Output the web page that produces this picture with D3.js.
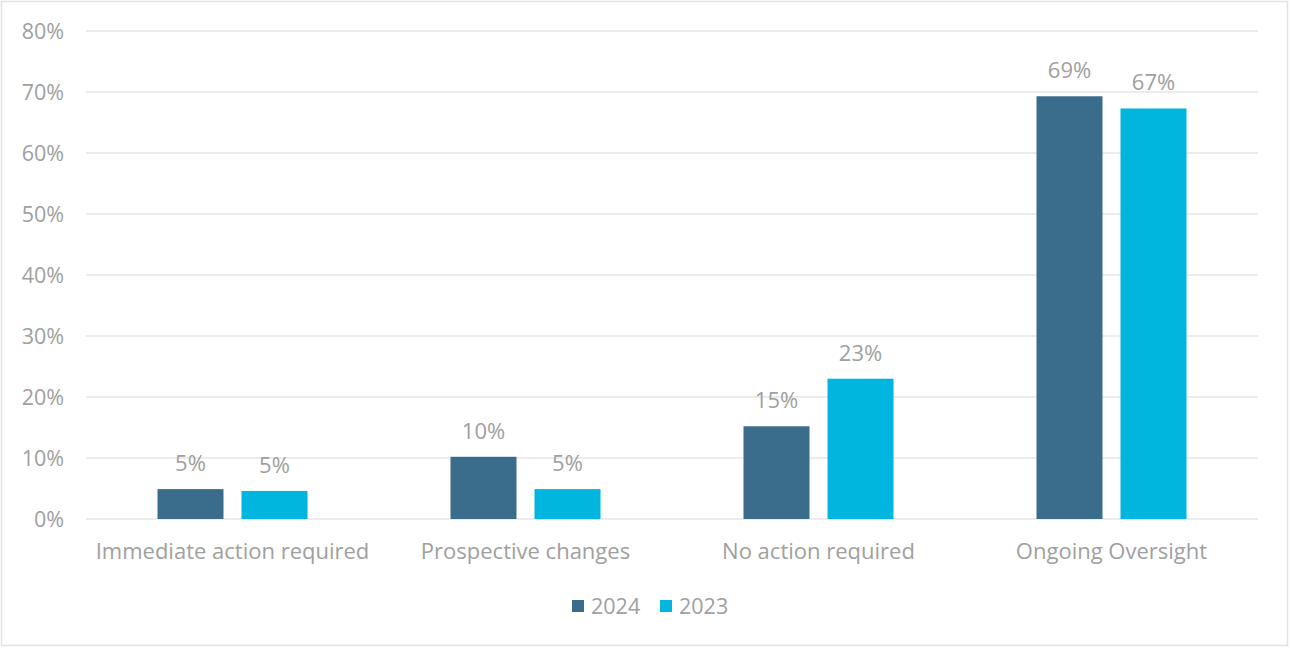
<!DOCTYPE html>
<html lang="en">
<head>
  <meta charset="UTF-8">
  <title>Review outcomes 2024 vs 2023</title>
  <script src="https://d3js.org/d3.v7.min.js"></script>
  <style>
    body { margin: 0; background: #fff; font-family: "Open Sans", "Noto Sans", sans-serif; }
    svg text { fill: #a0a0a0; }
    .grid line { stroke: #e6e6e6; stroke-width: 1.5px; }
  </style>
</head>
<body>
  <svg width="1291" height="649"></svg>
  <script>
    // chart data
    const categories = ["Immediate action required", "Prospective changes", "No action required", "Ongoing Oversight"];
    const seriesNames = ["2024", "2023"];
    const values2024 = [0.049, 0.102, 0.152, 0.693];
    const values2023 = [0.046, 0.049, 0.230, 0.673];
    const yTicks = [0, 0.1, 0.2, 0.3, 0.4, 0.5, 0.6, 0.7, 0.8];
    const colors = ["#3a6d8c", "#00b5de"];

    const svg = d3.select("svg");
    const width = +svg.attr("width");
    const height = +svg.attr("height");

    // outer border
    svg.append("rect")
      .attr("x", 1.5).attr("y", 1.5)
      .attr("width", width - 5).attr("height", height - 5)
      .attr("fill", "none").attr("stroke", "#e3e3e3").attr("stroke-width", 1.5);

    const plot = { left: 86, right: 1258, top: 31, bottom: 519 };

    const x = d3.scaleBand()
      .domain(categories)
      .range([plot.left, plot.right]);

    const y = d3.scaleLinear()
      .domain([0, 0.8])
      .range([plot.bottom, plot.top]);

    const barW = 66, gap = 18;
    const groupW = barW * 2 + gap;
    const barX = d => x(d.cat) + x.bandwidth() / 2 - groupW / 2 + (d.name === "2024" ? 0 : barW + gap);

    // gridlines
    svg.append("g").attr("class", "grid")
      .selectAll("line")
      .data(yTicks)
      .join("line")
      .attr("x1", plot.left).attr("x2", plot.right)
      .attr("y1", d => y(d)).attr("y2", d => y(d));

    // y labels
    svg.append("g")
      .selectAll("text")
      .data(yTicks)
      .join("text")
      .attr("x", 64)
      .attr("y", d => y(d))
      .attr("dy", "0.35em")
      .attr("text-anchor", "end")
      .attr("font-size", "21.5px")
      .text(d => d3.format(".0%")(d));

    // bars
    const data = seriesNames.map((s, i) => ({
      name: s,
      color: colors[i],
      values: (i === 0 ? values2024 : values2023).map((v, j) => ({ cat: categories[j], v, name: s }))
    }));

    const series = svg.append("g")
      .selectAll("g")
      .data(data)
      .join("g")
      .attr("fill", d => d.color);

    series.selectAll("rect")
      .data(d => d.values)
      .join("rect")
      .attr("x", barX)
      .attr("width", barW)
      .attr("y", d => y(d.v))
      .attr("height", d => y(0) - y(d.v));

    series.selectAll("text")
      .data(d => d.values)
      .join("text")
      .attr("x", d => barX(d) + barW / 2)
      .attr("y", d => y(d.v) - 18)
      .attr("text-anchor", "middle")
      .attr("font-size", "22px")
      .text(d => d3.format(".0%")(d.v));

    // category labels
    svg.append("g")
      .selectAll("text")
      .data(categories)
      .join("text")
      .attr("x", d => x(d) + x.bandwidth() / 2)
      .attr("y", 559)
      .attr("text-anchor", "middle")
      .attr("font-size", "22px")
      .text(d => d);

    // legend
    const legend = svg.append("g").attr("transform", "translate(572,600)");
    const items = legend.selectAll("g")
      .data(data)
      .join("g")
      .attr("transform", (d, i) => `translate(${i * 88},0)`);
    items.append("rect")
      .attr("width", 12).attr("height", 12)
      .attr("fill", d => d.color);
    items.append("text")
      .attr("x", 19).attr("y", 6)
      .attr("dy", "0.35em")
      .attr("font-size", "21.5px")
      .text(d => d.name);
  </script>
</body>
</html>
